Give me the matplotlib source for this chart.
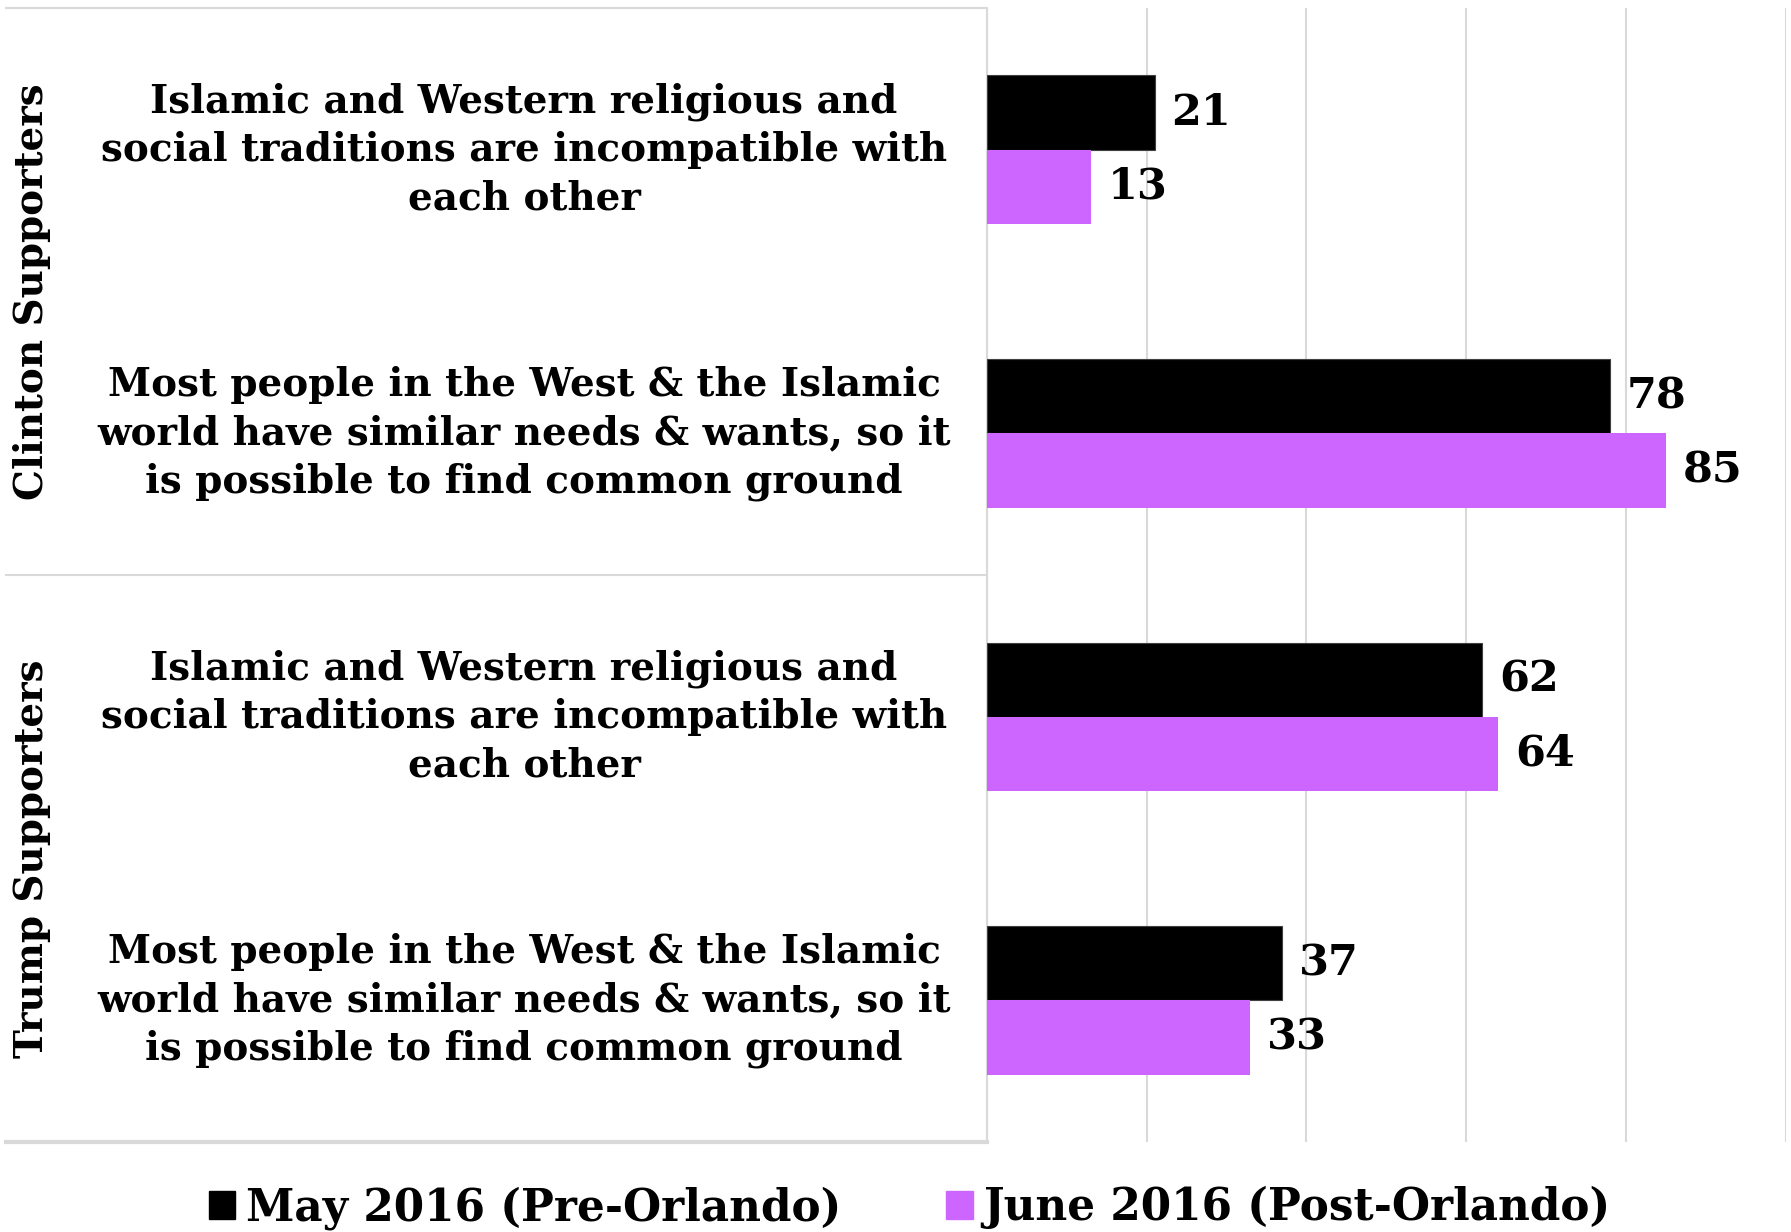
import numpy as np
import matplotlib.pyplot as plt
from matplotlib.patches import Patch
from matplotlib.lines import Line2D
from matplotlib.transforms import blended_transform_factory

statements = ["Islamic and Western religious and\nsocial traditions are incompatible with\neach other",
              "Most people in the West & the Islamic\nworld have similar needs & wants, so it\nis possible to find common ground",
              "Islamic and Western religious and\nsocial traditions are incompatible with\neach other",
              "Most people in the West & the Islamic\nworld have similar needs & wants, so it\nis possible to find common ground"]
groups = ["Clinton Supporters", "Trump Supporters"]
may_vals = [21, 78, 62, 37]
june_vals = [13, 85, 64, 33]
series_names = ["May 2016 (Pre-Orlando)", "June 2016 (Post-Orlando)"]

black = "#000000"
purple = "#CC66FF"
grid_c = "#D9D9D9"
font = "DejaVu Serif"

plt.rcParams['font.family'] = font
plt.rcParams['font.weight'] = 'bold'

fig = plt.figure(figsize=(17.91, 12.32), dpi=100)
ax = fig.add_axes([0.551, 0.073, 0.446, 0.9205])

y = np.arange(len(statements))
h = 0.262
ax.barh(y - h/2, may_vals, height=h, color=black, edgecolor="#404040", linewidth=0.8, zorder=3)
ax.barh(y + h/2, june_vals, height=h, color=purple, zorder=3)

for yi, v in zip(y, may_vals):
    ax.text(v + 2.1, yi - h/2, str(v), va='center', ha='left', fontsize=31, fontweight='bold')
for yi, v in zip(y, june_vals):
    ax.text(v + 2.1, yi + h/2, str(v), va='center', ha='left', fontsize=31, fontweight='bold')

ax.set_xlim(0, 100)
ax.set_ylim(3.5, -0.5)
ax.set_xticks(np.arange(0, 101, 20))
ax.xaxis.grid(True, color=grid_c, linewidth=1.5, zorder=0)
ax.tick_params(left=False, bottom=False, labelleft=False, labelbottom=False)
for s in ['top', 'right', 'bottom']:
    ax.spines[s].set_visible(False)
ax.spines['left'].set_color(grid_c)
ax.spines['left'].set_linewidth(1.5)

# left-hand table
tr = blended_transform_factory(fig.transFigure, ax.transData)
x0, x1 = 6/1791, 0.551
for yy, lw in [(-0.5, 1.5), (1.5, 1.5), (3.5, 3)]:
    ax.add_line(Line2D([x0, x1], [yy, yy], transform=tr, color=grid_c, linewidth=lw, clip_on=False))

for yi, lab in zip(y, statements):
    ax.text(0.2926, yi, lab, transform=tr, ha='center', va='center', multialignment='center',
            fontsize=28, fontweight='bold', linespacing=1.34)

for gi, g in enumerate(groups):
    ax.text(0.018, 0.5 + 2*gi, g, transform=tr, rotation=90, ha='center', va='center',
            fontsize=28, fontweight='bold')

handles = [Patch(color=black), Patch(color=purple)]
fig.legend(handles, series_names, loc='lower center', bbox_to_anchor=(0.508, -0.03), ncol=2,
           frameon=False, prop={'size': 31.5, 'weight': 'bold'}, handlelength=0.6, handleheight=0.6,
           handletextpad=0.25, columnspacing=2.4)

fig.savefig("out.png", dpi=100)
